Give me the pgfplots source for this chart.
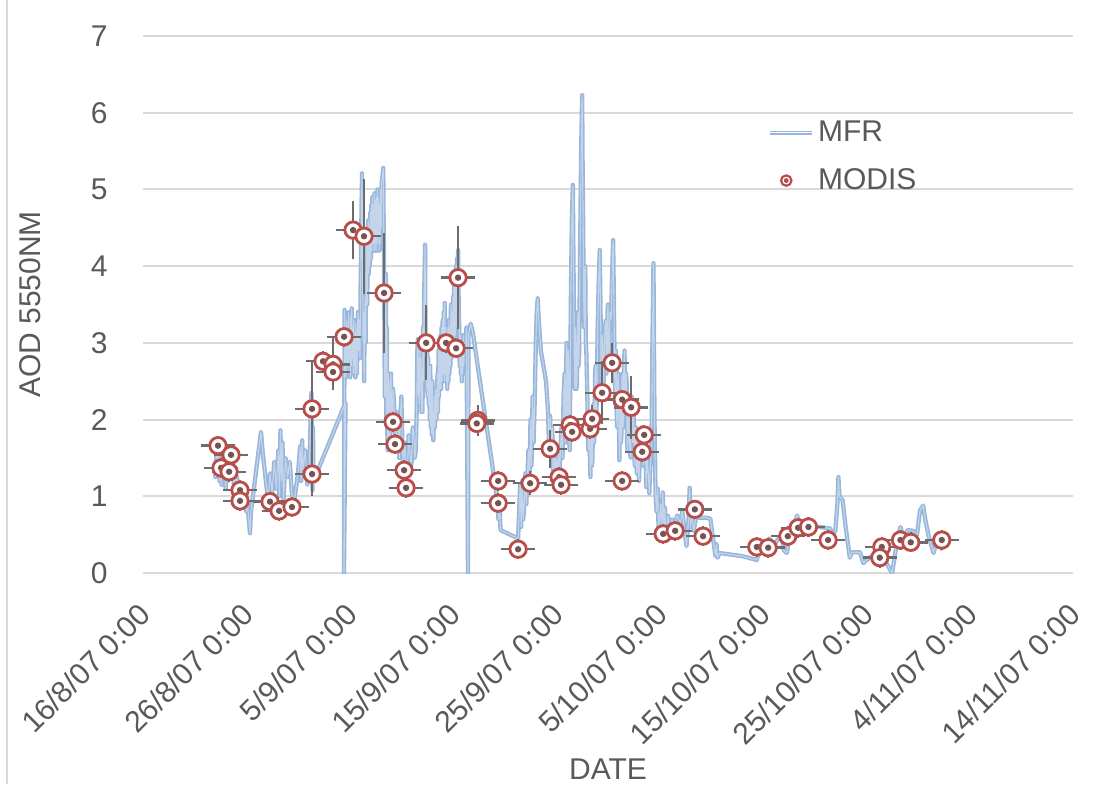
\documentclass[border=0pt]{standalone}
\usepackage{fontspec}
\setmainfont{Liberation Sans}
\usepackage{pgfplots}
\pgfplotsset{compat=1.18}
\definecolor{textgray}{RGB}{89,89,89}
\definecolor{gridgray}{RGB}{217,217,217}
\definecolor{mfrblue}{RGB}{152,182,218}
\definecolor{mfrinner}{RGB}{196,213,235}
\definecolor{modisred}{RGB}{184,78,74}
\definecolor{modisdot}{RGB}{120,82,82}
\definecolor{errgray}{RGB}{108,108,108}
\pgfdeclareplotmark{target}{%
  \pgfsetlinewidth{1.4pt}%
  \pgfsetstrokecolor{modisred}\pgfsetfillcolor{white}%
  \pgfpathcircle{\pgfpointorigin}{4.1pt}\pgfusepath{fill,stroke}%
  \pgfsetfillcolor{modisdot}%
  \pgfpathcircle{\pgfpointorigin}{1.6pt}\pgfusepath{fill}%
}
\tikzset{mfrline/.style={draw=mfrblue, line width=0.8pt, double=mfrinner, double distance=0.55pt, line join=round}}
\pgfplotsset{
  mfrlegend/.style={legend image code/.code={\draw[draw=mfrblue, line width=0.6pt, double=white, double distance=0.7pt] (0pt,0pt) -- (21pt,0pt);}},
  modislegend/.style={legend image code/.code={\draw[modisred, line width=1.1pt, fill=white] (8pt,0pt) circle (2.6pt); \fill[modisred] (8pt,0pt) circle (1pt);}}
}
\newcommand{\bigfont}{\fontsize{15}{18}\selectfont}
\begin{document}
\begin{tikzpicture}
\begin{axis}[
  scale only axis, width=465pt, height=268.5pt,
  xmin=0, xmax=90, ymin=0, ymax=7,
  xtick={0,10,...,90},
  xticklabels={16/8/07 0:00,26/8/07 0:00,5/9/07 0:00,15/9/07 0:00,25/9/07 0:00,5/10/07 0:00,15/10/07 0:00,25/10/07 0:00,4/11/07 0:00,14/11/07 0:00},
  ytick={0,1,...,7},
  ymajorgrids, major grid style={draw=gridgray, line width=1pt},
  axis line style={draw=none}, tick style={draw=none},
  /pgf/number format/assume math mode=true,
  tick label style={font=\bigfont, text=textgray},
  yticklabel style={inner sep=0pt, anchor=east, xshift=-17.5pt},
  xticklabel style={inner sep=0pt, yshift=-18pt, xshift=1pt, rotate=45, anchor=east},
  every axis x label/.style={at={(axis description cs:0.5,0)}, anchor=base, yshift=-103pt, font=\bigfont, text=textgray},
  every axis y label/.style={at={(axis description cs:0,0.5)}, xshift=-56.5pt, rotate=90, anchor=center, font=\bigfont, text=textgray},
  xlabel={DATE}, ylabel={AOD 5550NM},
  legend style={at={(axis description cs:0.672,0.85)}, anchor=north west, draw=none, fill=none, inner sep=0pt, row sep=8pt, font=\bigfont, text=textgray},
  legend cell align=left,
]
\addplot[mfrline, mfrlegend] coordinates {
(6.95,1.45)(7.0,1.25)(7.1,1.55)(7.2,1.30)(7.3,1.62)(7.4,1.20)(7.5,1.45)(7.6,1.15)(7.7,1.50)(7.8,1.25)(7.9,1.40)(8.0,1.10)(8.1,1.35)(8.2,1.20)(8.3,1.50)(8.4,1.30)(8.5,1.58)(8.6,1.25)(8.7,1.45)(8.8,1.15)(8.9,1.30)(9.0,1.05)(9.1,1.25)(9.2,1.00)(9.3,1.15)(9.4,0.95)(9.5,1.10)(9.6,0.90)(9.7,1.05)(9.8,0.85)(9.9,1.00)(10.0,0.80)(10.1,0.95)(10.2,0.75)(10.35,0.52)(10.45,0.80)(11.42,1.84)(11.6,1.55)(12.1,0.95)
(12.3,1.30)(12.5,1.05)(12.7,1.45)(12.9,1.10)(13.1,1.60)(13.2,1.00)(13.3,1.86)(13.4,1.20)(13.5,1.70)(13.6,0.95)(13.8,1.50)(14.0,1.25)(14.2,1.45)(14.4,1.05)(14.6,0.90)(14.8,1.10)(15.0,1.30)(15.2,1.65)(15.3,1.20)(15.4,1.73)(15.5,1.35)(15.7,1.60)(15.9,1.15)(16.1,1.40)(16.2,1.90)(16.3,2.35)(16.35,1.60)(16.4,1.08)(16.45,1.90)(16.5,1.20)(19.6,2.22)
(19.45,0)(19.5,3.43)(19.55,2.6)(19.6,3.1)(19.65,2.55)(19.7,3.3)(19.75,2.7)(19.8,3.2)(19.85,2.6)(19.9,3.4)(19.95,2.8)(20.0,3.0)(20.05,2.55)(20.1,3.35)(20.15,2.7)(20.2,3.45)(20.25,2.8)(20.3,3.2)(20.35,2.6)(20.4,3.3)(20.45,2.7)(20.5,3.1)(20.55,2.55)(20.6,3.25)(20.7,2.6)(20.8,3.4)(20.85,2.9)(20.9,3.3)(21.0,2.8)(21.05,3.6)(21.1,4.2)(21.15,4.8)(21.2,5.21)(21.25,4.0)(21.3,3.0)(21.35,3.4)(21.4,2.5)(21.45,3.3)(21.5,3.6)(21.55,3.0)(21.6,4.3)(21.65,3.7)(21.7,3.5)(21.75,4.4)(21.8,4.6)(21.85,3.9)(21.9,4.5)(21.95,4.0)(22.0,4.7)(22.05,4.1)(22.1,4.8)(22.15,4.2)(22.2,4.9)(22.25,4.3)(22.3,4.8)(22.35,4.2)(22.4,4.95)(22.45,4.3)(22.5,4.85)(22.55,4.2)(22.6,4.9)(22.65,4.3)(22.7,5.0)(22.75,4.4)(22.8,4.9)(22.85,4.2)(22.9,4.8)(22.95,4.3)(23.0,5.0)(23.05,4.5)(23.1,5.1)(23.2,5.2)(23.25,5.28)(23.3,4.4)(23.35,3.6)(23.4,2.3)
(23.5,3.9)(23.55,2.0)(23.6,3.2)(23.65,1.8)(23.7,1.6)(23.75,2.6)(23.8,2.4)(23.85,1.7)(23.9,1.8)(23.95,2.5)(24.0,2.6)(24.05,2.0)(24.1,1.9)(24.2,2.4)(24.3,2.2)(24.4,1.7)(24.5,1.6)(24.6,2.1)(24.7,2.0)(24.8,1.5)(24.9,2.0)(25.0,2.3)(25.1,1.7)(25.2,1.3)(25.3,1.7)(25.4,1.55)(25.5,1.3)(25.6,1.35)(25.7,1.8)(25.8,1.7)(25.9,1.4)(26.0,1.45)(26.1,1.9)(26.2,1.85)(26.3,1.5)(26.4,1.6)
(26.5,2.2)(26.55,2.9)(26.6,3.05)(26.65,2.3)(26.7,2.8)(26.75,2.2)(26.8,2.9)(26.85,2.4)(26.9,2.8)(26.95,2.1)(27.0,2.6)(27.05,2.1)(27.1,3.2)(27.15,2.5)(27.2,3.6)(27.25,3.9)(27.3,4.28)(27.35,2.6)(27.4,3.1)(27.45,2.4)(27.5,3.0)(27.55,2.3)(27.6,2.8)(27.65,2.2)(27.7,2.7)(27.75,2.0)(27.8,2.7)(27.85,1.9)(27.9,2.5)(27.95,1.8)(28.0,2.5)(28.05,1.9)(28.1,1.73)(28.2,2.3)(28.25,1.9)(28.3,2.4)(28.4,2.0)(28.5,2.6)(28.55,2.1)(28.6,2.9)(28.65,2.3)(28.7,3.0)(28.75,2.4)(28.8,3.1)(28.85,2.4)(28.9,3.2)(28.95,2.5)(29.0,3.3)(29.05,2.6)(29.1,3.4)(29.15,2.5)(29.2,3.52)(29.25,2.6)(29.3,3.2)(29.35,2.5)(29.4,3.1)(29.45,2.4)(29.5,3.2)(29.55,2.5)(29.6,3.3)(29.65,2.6)(29.7,3.2)(29.75,2.7)(29.8,3.5)(29.85,2.8)(29.9,3.4)(29.95,2.9)(30.0,3.6)(30.05,3.0)(30.1,3.8)(30.15,3.0)(30.2,3.9)(30.25,3.1)(30.3,4.0)(30.35,3.2)(30.4,4.1)(30.45,3.4)(30.5,4.21)(30.55,3.5)(30.6,3.2)(30.65,2.7)(30.7,3.1)(30.75,2.6)(30.8,3.0)(30.85,2.5)(30.9,3.0)(30.95,2.6)(31.0,3.1)(31.05,2.7)(31.1,3.0)(31.2,2.9)(31.3,3.2)(31.45,0)(31.5,3.1)(31.7,3.25)(31.9,3.15)
(34.3,0.95)(34.4,0.7)(34.5,0.9)(34.6,0.56)
(36.3,0.45)(36.5,1.15)(36.6,0.6)(36.7,1.2)(36.8,0.7)(36.9,0.9)(37.0,1.3)(37.1,0.9)(37.2,1.25)(37.3,1.6)(37.4,1.2)(37.5,2.0)(37.6,1.4)(37.7,2.3)(37.8,1.7)(37.9,2.2)(38.0,2.9)(38.1,3.4)(38.2,3.58)(38.3,3.3)(38.5,2.9)(39.0,2.5)(39.2,2.1)(39.3,1.6)(39.4,2.05)(39.5,1.5)(39.6,1.9)(39.7,1.2)(39.8,1.7)(39.9,1.1)(40.0,1.5)(40.1,1.2)(40.2,1.6)(40.3,1.3)(40.5,1.9)
(40.6,1.5)(40.7,2.3)(40.8,2.6)(40.85,1.7)(40.9,1.8)(40.95,2.7)(41.0,3.0)(41.05,2.0)(41.1,2.1)(41.15,2.9)(41.2,2.8)(41.25,1.7)(41.3,1.6)(41.35,2.6)(41.4,3.5)(41.5,4.6)(41.6,5.06)(41.65,4.2)(41.7,3.5)(41.75,2.6)(41.8,2.4)(41.85,3.2)(41.9,3.0)(41.95,2.4)(42.0,2.5)(42.05,3.2)(42.1,3.4)(42.15,2.7)(42.2,2.8)(42.3,4.2)(42.4,5.5)(42.5,6.23)(42.55,5.2)(42.6,4.5)(42.65,3.6)(42.7,3.2)(42.75,3.9)(42.8,4.0)(42.85,3.0)(42.9,2.9)(43.0,2.3)(43.05,1.9)(43.1,1.6)(43.15,2.1)(43.2,2.0)(43.25,1.5)(43.3,1.25)(43.35,1.9)(43.4,1.8)(43.45,1.4)(43.5,1.5)(43.55,2.1)(43.6,2.2)(43.65,1.7)(43.7,1.9)(43.75,2.6)(43.8,2.7)(43.85,2.0)(43.9,2.2)(44.0,3.2)(44.1,3.8)(44.2,4.21)(44.3,3.2)(44.35,2.4)(44.4,2.5)(44.45,3.1)(44.5,3.0)(44.55,2.4)(44.6,2.6)(44.7,3.2)(44.8,3.3)(44.85,2.6)(44.9,2.7)(44.95,3.4)(45.0,3.5)(45.05,2.7)(45.1,2.8)(45.2,3.4)(45.3,3.3)(45.4,3.9)(45.5,4.34)(45.6,3.2)(45.65,2.6)(45.7,2.2)(45.75,2.9)(45.8,2.8)(45.85,2.0)(45.9,1.9)(45.95,2.5)(46.0,2.6)(46.1,1.47)(46.15,2.0)(46.2,2.3)(46.25,1.7)(46.3,1.8)(46.35,2.5)(46.4,2.6)(46.45,1.9)(46.5,2.0)(46.55,2.7)(46.6,2.9)(46.65,2.2)(46.7,2.1)(46.75,2.6)(46.8,2.5)(46.85,1.7)(46.9,1.6)(46.95,2.2)(47.0,2.2)(47.1,1.6)(47.2,1.5)(47.25,2.2)(47.3,2.3)(47.35,1.8)(47.4,1.7)(47.45,2.1)(47.5,2.0)(47.55,1.5)(47.6,1.4)(47.65,1.9)(47.7,1.9)(47.75,1.4)(47.8,1.3)(47.85,1.8)(47.9,1.8)(47.95,1.3)(48.0,1.2)(48.1,1.6)(48.2,1.7)(48.3,1.9)(48.4,1.4)(48.5,1.7)(48.6,1.8)(48.7,1.12)(48.8,1.5)(48.9,1.3)(49.0,1.04)(49.1,1.4)(49.2,1.6)(49.3,3.0)(49.4,4.04)(49.5,2.0)(49.6,1.05)(49.7,0.8)(49.8,1.1)
(49.9,0.55)(50.1,0.9)(50.2,0.5)(50.3,1.05)(50.4,0.6)(50.5,0.85)(50.6,0.45)(50.8,0.75)(51.0,0.55)(51.2,0.7)(51.4,0.6)(51.7,0.75)(52.0,0.65)(52.2,0.8)(52.4,0.55)(52.6,0.35)(52.8,0.7)(52.9,1.11)(53.0,0.6)(53.1,0.8)(53.3,0.55)(53.5,0.72)(54.0,0.72)(54.5,0.72)(54.9,0.71)(55.4,0.22)(55.5,0.38)(55.6,0.2)(55.8,0.26)(58.0,0.22)(59.4,0.17)
(59.7,0.34)(60.2,0.3)(60.6,0.45)(61.0,0.35)(61.4,0.43)(61.8,0.5)(62.0,0.3)(62.3,0.26)(62.6,0.5)(62.9,0.45)(63.1,0.65)(63.3,0.75)(63.6,0.6)(64.3,0.62)(65.5,0.6)(66.5,0.58)(66.7,0.5)(67.0,0.55)(67.2,0.9)(67.3,1.25)(67.4,1.0)(67.7,0.95)(68.0,0.6)(68.4,0.2)(68.6,0.27)(69.4,0.27)(69.7,0.13)(70.4,0.21)(71.6,0.21)(72.5,0.0)(73.0,0.43)(73.3,0.6)(73.6,0.45)(74.0,0.56)(74.5,0.55)(74.9,0.5)(75.2,0.82)(75.5,0.88)(75.7,0.7)(76.0,0.5)(76.5,0.26)(76.9,0.45)(77.2,0.34)(77.4,0.3)
};
\addlegendentry{MFR}
\addplot[only marks, mark=target, modislegend,
  error bars/.cd, x dir=both, x explicit, y dir=both, y explicit,
  error bar style={draw=errgray, line width=1.2pt},
  error mark options={draw=errgray, line width=1.2pt, mark size=3pt}]
  table[x=d, y=v, x error=ex, y error=ey] {
d v ex ey
7.26 1.66 1.05 0.05
7.55 1.37 1.05 0.05
8.52 1.54 1.05 0.05
8.33 1.32 1.05 0.05
9.39 1.08 1.05 0.05
9.39 0.94 1.05 0.05
12.29 0.93 1.05 0.05
13.17 0.81 1.05 0.05
14.42 0.86 1.05 0.05
16.36 2.14 1.05 0.53
16.36 1.29 1.05 0.21
17.42 2.76 1.05 0.05
18.39 2.72 1.05 0.26
18.39 2.62 1.05 0.10
19.46 3.08 1.05 0.05
20.33 4.47 1.05 0.30
21.39 4.39 1.05 0.67
23.33 3.65 1.05 0.71
24.20 1.97 1.05 0.05
24.39 1.68 1.05 0.05
25.27 1.34 1.05 0.05
25.46 1.11 1.05 0.05
27.40 3.00 1.05 0.41
29.33 3.00 1.05 0.05
30.30 2.93 1.05 0.05
30.49 3.85 1.05 0.59
32.40 1.99 1.05 0.12
32.30 1.95 1.05 0.05
34.37 1.20 1.05 0.05
34.37 0.91 1.05 0.05
36.30 0.31 1.05 0.05
37.46 1.17 1.05 0.08
39.40 1.62 1.05 0.17
40.27 1.25 1.05 0.05
40.46 1.15 1.05 0.05
41.34 1.93 1.05 0.05
41.53 1.84 1.05 0.05
43.27 1.88 1.05 0.05
43.47 2.01 1.05 0.10
44.43 2.35 1.05 0.33
45.40 2.74 1.05 0.18
46.37 2.26 1.05 0.05
47.24 2.16 1.05 0.33
46.37 1.20 1.05 0.05
48.50 1.80 1.05 0.05
48.31 1.58 1.05 0.05
50.34 0.51 1.05 0.05
51.50 0.55 1.05 0.05
53.40 0.83 1.05 0.05
54.20 0.48 1.05 0.05
59.40 0.34 1.05 0.05
60.50 0.33 1.05 0.05
62.40 0.48 1.05 0.05
63.40 0.59 1.05 0.05
64.40 0.60 1.05 0.05
66.30 0.43 1.05 0.05
71.50 0.34 1.05 0.05
71.30 0.20 1.05 0.05
73.30 0.43 1.05 0.05
74.30 0.40 1.05 0.05
77.30 0.43 1.05 0.05
};
\addlegendentry{MODIS}
\end{axis}
\draw[gridgray, line width=1pt] (-68pt,-105.5pt) -- (-68pt,286.5pt);
\pgfresetboundingbox
\useasboundingbox (-71.5pt,-105.5pt) rectangle (477.5pt,286.5pt);
\end{tikzpicture}
\end{document}
